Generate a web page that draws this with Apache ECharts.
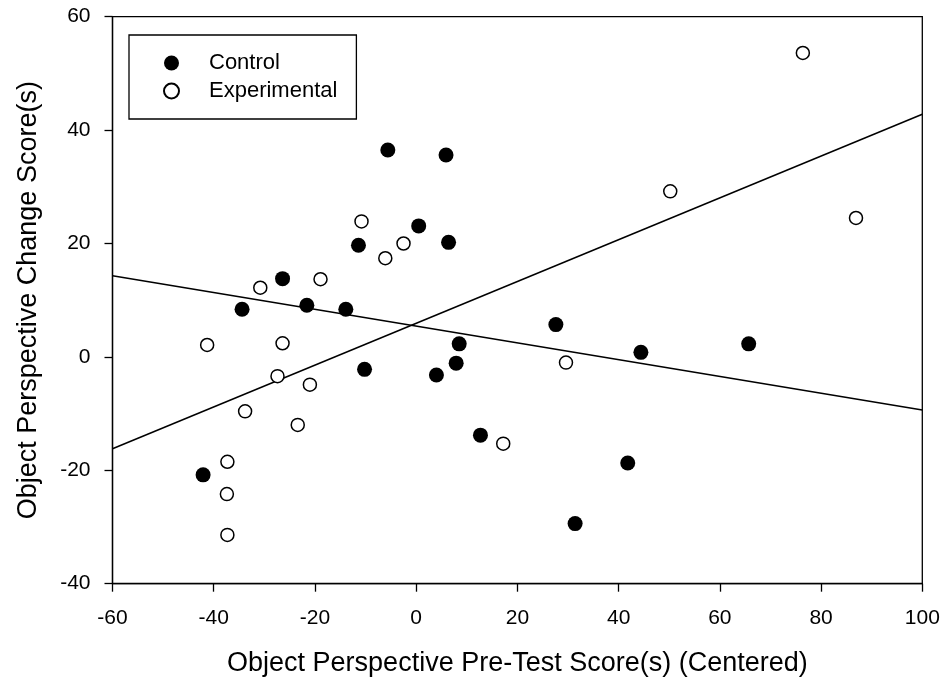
<!DOCTYPE html>
<html>
<head>
<meta charset="utf-8">
<script src="https://cdn.jsdelivr.net/npm/echarts@6/dist/echarts.min.js"></script>
<style>
html,body{margin:0;padding:0;background:#fff;}
#chart{width:945px;height:682px;}
</style>
</head>
<body>
<div id="chart"></div>
<script>
// Data
var controlX = [-5.6, -11.4, -26.4, -34.4, -21.6, -13.9, -10.2, -42.1, 5.9, 0.5, 6.4, 27.6, 8.5, 7.9, 4.0, 44.4, 12.7, 41.8, 31.4, 65.7];
var controlY = [36.5, 19.7, 13.8, 8.4, 9.1, 8.4, -2.2, -20.8, 35.6, 23.1, 20.2, 5.7, 2.3, -1.1, -3.2, 0.8, -13.8, -18.7, -29.4, 2.3];
var experimentalX = [-10.8, -2.5, -6.1, -18.9, -30.8, -41.3, -26.4, -27.4, -21.0, -33.8, -23.4, -37.3, -37.4, -37.3, 50.2, 76.4, 86.9, 29.6, 17.2];
var experimentalY = [23.9, 20.0, 17.4, 13.7, 12.2, 2.1, 2.4, -3.4, -4.9, -9.6, -12.0, -18.5, -24.2, -31.4, 29.2, 53.6, 24.5, -1.0, -15.3];
// Regression line end points
var lineX = [-60, 100];
var controlLineY = [14.3, -9.35];
var experimentalLineY = [-16.2, 42.8];
var seriesNames = ['Control', 'Experimental'];
var xTitle = 'Object Perspective Pre-Test Score(s) (Centered)';
var yTitle = 'Object Perspective Change Score(s)';

function zip(a, b) { return a.map(function (v, i) { return [v, b[i]]; }); }

var font = "'Liberation Sans', Arial, sans-serif";
var chart = echarts.init(document.getElementById('chart'), null, {renderer: 'canvas'});
chart.setOption({
  animation: false,
  backgroundColor: '#fff',
  textStyle: {fontFamily: font, color: '#000'},
  grid: {left: 112.5, right: 22.7, top: 16.7, bottom: 98.3, show: true, borderColor: '#000', borderWidth: 1.3, backgroundColor: 'transparent'},
  legend: {
    data: seriesNames,
    orient: 'vertical',
    left: 129,
    top: 35,
    padding: [17, 19, 17, 34],
    itemGap: 6,
    itemWidth: 15,
    itemHeight: 15,
    borderColor: '#000',
    borderWidth: 1.3,
    borderRadius: 0,
    textStyle: {fontFamily: font, fontSize: 22, color: '#000', padding: [0, 0, 0, 25]}
  },
  xAxis: {
    type: 'value', min: -60, max: 100, interval: 20,
    name: xTitle, nameLocation: 'middle', nameGap: 66,
    nameTextStyle: {fontFamily: font, fontSize: 27, color: '#000'},
    axisLine: {show: true, onZero: false, lineStyle: {color: '#000', width: 1.3}},
    axisTick: {show: true, inside: false, length: 8, lineStyle: {color: '#000', width: 1.3}},
    axisLabel: {fontFamily: font, fontSize: 21, color: '#000', margin: 24},
    splitLine: {show: false}
  },
  yAxis: {
    type: 'value', min: -40, max: 60, interval: 20,
    name: yTitle, nameLocation: 'middle', nameGap: 70, nameRotate: 90,
    nameTextStyle: {fontFamily: font, fontSize: 27, color: '#000'},
    axisLine: {show: true, onZero: false, lineStyle: {color: '#000', width: 1.3}},
    axisTick: {show: true, inside: false, length: 8, lineStyle: {color: '#000', width: 1.3}},
    axisLabel: {fontFamily: font, fontSize: 21, color: '#000', margin: 22},
    splitLine: {show: false}
  },
  series: [
    {
      name: 'ControlLine', type: 'line', data: zip(lineX, controlLineY),
      showSymbol: false, symbol: 'none', lineStyle: {color: '#000', width: 1.5}, z: 1, silent: true
    },
    {
      name: 'ExperimentalLine', type: 'line', data: zip(lineX, experimentalLineY),
      showSymbol: false, symbol: 'none', lineStyle: {color: '#000', width: 1.5}, z: 1, silent: true
    },
    {
      name: 'Control', type: 'scatter', data: zip(controlX, controlY),
      symbol: 'circle', symbolSize: 15,
      itemStyle: {color: '#000', borderColor: '#000', borderWidth: 0, opacity: 1}, z: 3
    },
    {
      name: 'Experimental', type: 'scatter', data: zip(experimentalX, experimentalY),
      symbol: 'circle', symbolSize: 13,
      itemStyle: {color: '#fff', borderColor: '#000', borderWidth: 1.5, opacity: 1}, z: 3
    }
  ]
});
</script>
</body>
</html>
